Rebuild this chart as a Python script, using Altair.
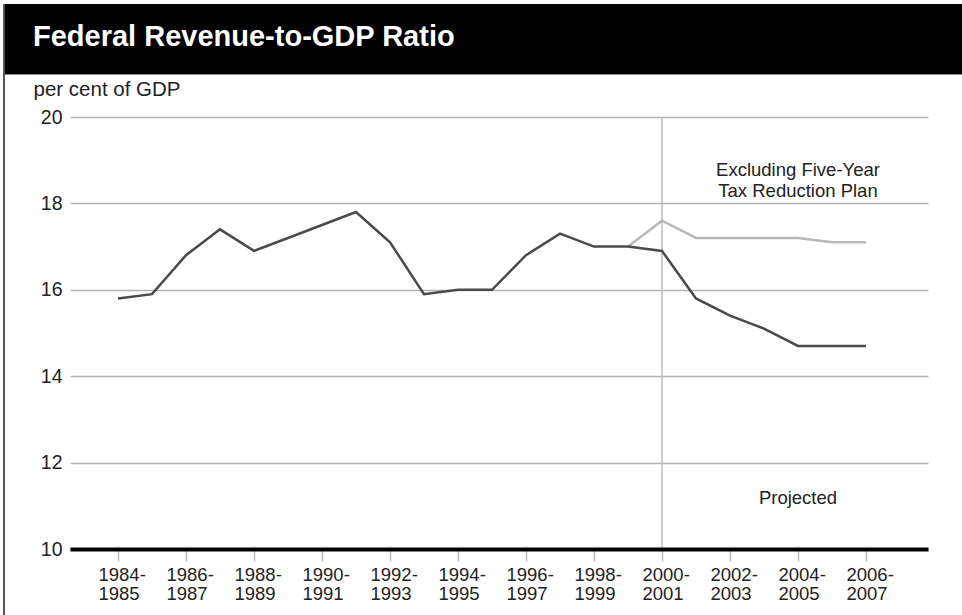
import json
import altair as alt
import pandas as pd

# ---- data ----
FISCAL_YEARS = [
    "1984-1985", "1985-1986", "1986-1987", "1987-1988", "1988-1989", "1989-1990",
    "1990-1991", "1991-1992", "1992-1993", "1993-1994", "1994-1995", "1995-1996",
    "1996-1997", "1997-1998", "1998-1999", "1999-2000", "2000-2001", "2001-2002",
    "2002-2003", "2003-2004", "2004-2005", "2005-2006", "2006-2007",
]
REVENUE = [15.8, 15.9, 16.8, 17.4, 16.9, 17.2, 17.5, 17.8, 17.1, 15.9, 16.0, 16.0,
           16.8, 17.3, 17.0, 17.0, 16.9, 15.8, 15.4, 15.1, 14.7, 14.7, 14.7]
EXCL_START = 15
EXCL_VALUES = [17.0, 17.6, 17.2, 17.2, 17.2, 17.2, 17.1, 17.1]
PROJECTION_START = 16
TICK_INDEX = list(range(0, 23, 2))
Y_TICKS = [10, 12, 14, 16, 18, 20]
ANNOT_TEXT = ["Excluding Five-Year\nTax Reduction Plan", "Projected"]
ANNOT_X = [20, 20]
ANNOT_Y = [18.63, 11.04]
TITLE = "Federal Revenue-to-GDP Ratio"
Y_TITLE = "per cent of GDP"

FONT = "Liberation Sans"
W, H = 858, 432
PAD_L, PAD_T = 70, 117

main_df = pd.DataFrame({"i": list(range(len(REVENUE))), "v": REVENUE})
excl_df = pd.DataFrame({"i": list(range(EXCL_START, EXCL_START + len(EXCL_VALUES))),
                        "v": EXCL_VALUES})
annot_df = pd.DataFrame({"t": ANNOT_TEXT, "i": ANNOT_X, "v": ANNOT_Y})
proj_df = pd.DataFrame({"i": [PROJECTION_START]})

labels_js = json.dumps(FISCAL_YEARS)
label_expr = (f"[split({labels_js}[datum.value], '-')[0] + '-', "
              f"split({labels_js}[datum.value], '-')[1]]")

x_scale = alt.Scale(domain=[-1.4118, 23.8235], nice=False, zero=False)
y_scale = alt.Scale(domain=[10, 20], nice=False, zero=False)

x_axis = alt.Axis(values=TICK_INDEX, labelExpr=label_expr, title=None, grid=False,
                  domainColor="black", domainWidth=4, tickColor="#bbbbbb", tickWidth=1.5,
                  tickSize=12, labelPadding=4, labelFont=FONT, labelFontSize=18.5,
                  labelColor="#222222", labelLineHeight=19, zindex=1, labelFlush=False,
                  labelAlign="left", labelOffset=-20)
y_axis = alt.Axis(values=Y_TICKS, title=Y_TITLE, titleAngle=0, titleAlign="left",
                  titleBaseline="alphabetic", titleX=-37, titleY=-22, titleFont=FONT,
                  titleFontSize=20.5, titleFontWeight="normal", titleColor="#222222",
                  domain=False, ticks=False, labelPadding=8, labelFont=FONT,
                  labelFontSize=19.5, labelColor="#222222", grid=True,
                  gridColor="#b3b3b3", gridWidth=1.5)

base_x = alt.X("i:Q", scale=x_scale, axis=x_axis)
base_y = alt.Y("v:Q", scale=y_scale, axis=y_axis)

proj_rule = alt.Chart(proj_df).mark_rule(color="#bbbbbb", strokeWidth=1.5).encode(
    x=alt.X("i:Q", scale=x_scale), y=alt.value(0), y2=alt.value(H))

excl_line = alt.Chart(excl_df).mark_line(color="#b8b8b8", strokeWidth=2.5).encode(
    x=base_x, y=base_y)
main_line = alt.Chart(main_df).mark_line(color="#4a4a4a", strokeWidth=2.5).encode(
    x=base_x, y=base_y)

annot = alt.Chart(annot_df).mark_text(font=FONT, fontSize=18.5, color="#222222",
                                      align="center", baseline="alphabetic",
                                      lineBreak="\n", lineHeight=21).encode(
    x=alt.X("i:Q", scale=x_scale), y=alt.Y("v:Q", scale=y_scale), text="t:N")

one = alt.Data(values=[{"a": 1}])
title_bar = alt.Chart(one).mark_rect(color="black").encode(
    x=alt.value(-67), x2=alt.value(962 - PAD_L), y=alt.value(4 - PAD_T), y2=alt.value(74 - PAD_T))
title_text = alt.Chart(one).mark_text(text=TITLE, font=FONT, fontSize=29, fontWeight="bold",
                                      color="white", align="left", baseline="alphabetic").encode(
    x=alt.value(33 - PAD_L), y=alt.value(46 - PAD_T))
left_border = alt.Chart(one).mark_rule(color="#555555", strokeWidth=2).encode(
    x=alt.value(4 - PAD_L), y=alt.value(4 - PAD_T), y2=alt.value(615 - PAD_T))
bar_edge = alt.Chart(one).mark_rule(color="#888888", strokeWidth=1).encode(
    x=alt.value(3 - PAD_L), x2=alt.value(962 - PAD_L), y=alt.value(74.5 - PAD_T))

chart = alt.layer(
    proj_rule, excl_line, main_line, annot, title_bar, bar_edge, title_text, left_border
).properties(
    width=W, height=H,
    autosize=alt.AutoSizeParams(type="none"),
    padding={"left": PAD_L, "top": PAD_T, "right": 962 - PAD_L - W, "bottom": 615 - PAD_T - H},
    background="white",
).configure_view(stroke=None)

chart.save("out.html", embed_options={"renderer": "svg", "actions": False})
